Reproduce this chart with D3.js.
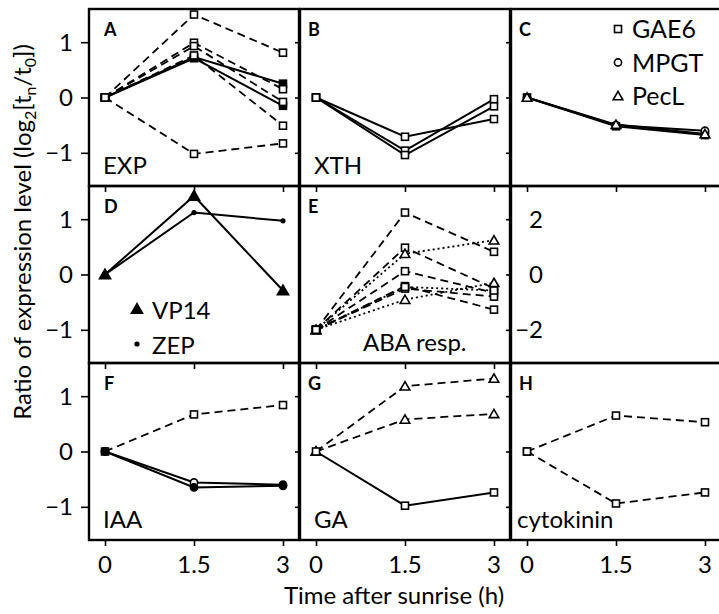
<!DOCTYPE html>
<html>
<head>
<meta charset="utf-8">
<script src="https://cdn.jsdelivr.net/npm/d3@7"></script>
<style>
  body { margin: 0; background: #fff; }
  text { font-family: Lato, "Open Sans", sans-serif; fill: #000; }
</style>
</head>
<body>
<svg id="chart" width="719" height="614"></svg>
<script>
// Sampling times (h after sunrise) and axis ticks
const hours = [0, 1.5, 3];
const hourLabels = ["0", "1.5", "3"];
const ratioTicks = [-1, 0, 1];
const abaTicks = [-2, 0, 2];

// A — EXP
const expValues = [[0, 0.73, 0.25], [0, 0.71, -0.15], [0, 1.50, 0.81], [0, 0.99, 0.15], [0, 0.93, -0.08], [0, 0.76, -0.51], [0, -1.02, -0.83]];
const expGene   = ["GAE6", "GAE6", "GAE6", "GAE6", "GAE6", "GAE6", "GAE6"];
const expFilled = [true, true, false, false, false, false, false];
const expLine   = ["solid", "solid", "dashed", "dashed", "dashed", "dashed", "dashed"];

// B — XTH
const xthValues = [[0, -0.71, -0.39], [0, -0.96, -0.03], [0, -1.04, -0.16]];
const xthGene   = ["GAE6", "GAE6", "GAE6"];
const xthFilled = [false, false, false];
const xthLine   = ["solid", "solid", "solid"];

// C — marker genes
const markerValues = [[0, -0.52, -0.68], [0, -0.50, -0.60], [0, -0.49, -0.66]];
const markerGene   = ["GAE6", "MPGT", "PecL"];
const markerFilled = [false, false, false];
const markerLine   = ["solid", "solid", "solid"];

// D — ABA biosynthesis
const abaBioValues = [[0, 1.42, -0.29], [0, 1.12, 0.97]];
const abaBioGene   = ["VP14", "ZEP"];
const abaBioFilled = [true, true];
const abaBioLine   = ["solid", "solid"];

// E — ABA responsive (right-hand scale)
const abaRespValues = [[-2, 2.24, 0.82], [-2, 0.97, -0.50], [-2, 0.12, -0.66], [-2, -0.42, -1.27], [-2, -0.51, -0.80], [-2, 0.75, 1.24], [-2, -0.91, -0.30], [-2, -0.45, -0.58]];
const abaRespGene   = ["GAE6", "GAE6", "GAE6", "GAE6", "GAE6", "PecL", "PecL", "GAE6"];
const abaRespFilled = [false, false, false, false, false, false, false, false];
const abaRespLine   = ["dashed", "dashed", "dashed", "dashed", "dashed", "dotted", "dotted", "dotted"];

// F — IAA
const iaaValues = [[0, 0.67, 0.84], [0, -0.56, -0.60], [0, -0.65, -0.62]];
const iaaGene   = ["GAE6", "MPGT", "MPGT"];
const iaaFilled = [false, false, true];
const iaaLine   = ["dashed", "solid", "solid"];

// G — GA
const gaValues = [[0, 1.18, 1.32], [0, 0.58, 0.68], [0, -0.98, -0.74]];
const gaGene   = ["PecL", "PecL", "GAE6"];
const gaFilled = [false, false, false];
const gaLine   = ["dashed", "dashed", "solid"];

// H — cytokinin
const ckValues = [[0, 0.65, 0.53], [0, -0.94, -0.74]];
const ckGene   = ["GAE6", "GAE6"];
const ckFilled = [false, false];
const ckLine   = ["dashed", "dashed"];

const panels = [
  { letter: "A", name: "EXP",       col: 0, row: 0, values: expValues,     gene: expGene,     filled: expFilled,     line: expLine },
  { letter: "B", name: "XTH",       col: 1, row: 0, values: xthValues,     gene: xthGene,     filled: xthFilled,     line: xthLine },
  { letter: "C", name: "",          col: 2, row: 0, values: markerValues,  gene: markerGene,  filled: markerFilled,  line: markerLine },
  { letter: "D", name: "",          col: 0, row: 1, values: abaBioValues,  gene: abaBioGene,  filled: abaBioFilled,  line: abaBioLine },
  { letter: "E", name: "ABA resp.", col: 1, row: 1, values: abaRespValues, gene: abaRespGene, filled: abaRespFilled, line: abaRespLine, aba: true },
  { letter: "F", name: "IAA",       col: 0, row: 2, values: iaaValues,     gene: iaaGene,     filled: iaaFilled,     line: iaaLine },
  { letter: "G", name: "GA",        col: 1, row: 2, values: gaValues,      gene: gaGene,      filled: gaFilled,      line: gaLine },
  { letter: "H", name: "cytokinin", col: 2, row: 2, values: ckValues,      gene: ckGene,      filled: ckFilled,      line: ckLine }
];

// Grid geometry
const colX = [89, 300, 511], colW = 210;
const rowY = [9, 186, 363], rowH = 177;
const dashes = { solid: null, dashed: "8,5", dotted: "2,3" };
const FS = 24;

const svg = d3.select("#chart");

function drawMarker(g, gene, filled, cx, cy) {
  const fill = filled ? "#000" : "#fff";
  if (gene === "GAE6") {
    g.append("rect").attr("x", cx - 3.5).attr("y", cy - 3.5).attr("width", 7).attr("height", 7)
      .attr("fill", fill).attr("stroke", "#000").attr("stroke-width", 1.6);
  } else if (gene === "MPGT") {
    g.append("circle").attr("cx", cx).attr("cy", cy).attr("r", 3.6)
      .attr("fill", fill).attr("stroke", "#000").attr("stroke-width", 1.6);
  } else if (gene === "PecL") {
    g.append("path").attr("d", d3.symbol(d3.symbolTriangle, 40)()).attr("transform", `translate(${cx},${cy + 1})`)
      .attr("fill", fill).attr("stroke", "#000").attr("stroke-width", 1.6);
  } else if (gene === "VP14") {
    g.append("path").attr("d", d3.symbol(d3.symbolTriangle, 60)()).attr("transform", `translate(${cx},${cy + 1})`)
      .attr("fill", "#000").attr("stroke", "#000").attr("stroke-width", 1.2);
  } else if (gene === "ZEP") {
    g.append("circle").attr("cx", cx).attr("cy", cy).attr("r", 2.6).attr("fill", "#000");
  }
}

panels.forEach(p => {
  const x0 = colX[p.col], y0 = rowY[p.row];
  const x = d3.scaleLinear().domain([-0.27, 3.27]).range([x0, x0 + colW]);
  const yDomain = p.aba ? [-3.2, 3.2] : [-1.6, 1.6];
  const y = d3.scaleLinear().domain(yDomain).range([y0 + rowH, y0]);
  const g = svg.append("g");

  const line = d3.line().x((d, i) => x(hours[i])).y(d => y(d));
  p.values.forEach((vals, k) => {
    g.append("path").datum(vals).attr("d", line)
      .attr("fill", "none").attr("stroke", "#000")
      .attr("stroke-width", p.line[k] === "solid" ? 2 : 1.8)
      .attr("stroke-dasharray", dashes[p.line[k]]);
  });
  p.values.forEach((vals, k) => {
    vals.forEach((v, i) => drawMarker(g, p.gene[k], p.filled[k], x(hours[i]), y(v)));
  });

  // panel letter and group name
  g.append("text").attr("x", x0 + (p.col === 0 ? 15 : 8)).attr("y", y0 + 27)
    .attr("font-size", 18).attr("font-weight", "bold").text(p.letter);
  if (p.name) {
    const nx = p.aba ? x0 + 63 : (p.col === 2 ? x0 + 6 : x0 + 14);
    g.append("text").attr("x", nx).attr("y", y0 + rowH - 12).attr("font-size", FS).text(p.name);
  }

  // bottom ticks
  const bottom = d3.axisBottom(x).tickValues(hours).tickSize(6).tickFormat("");
  const ax = g.append("g").attr("transform", `translate(0,${y0 + rowH})`).call(bottom);
  ax.select(".domain").remove();
  ax.selectAll(".tick line").attr("stroke", "#000").attr("stroke-width", 1.6);
  if (p.row === 2) {
    hours.forEach((h, i) => {
      g.append("text").attr("x", x(h)).attr("y", 573).attr("text-anchor", "middle")
        .attr("font-size", FS).text(hourLabels[i]);
    });
  }

  // left ticks (labels only on the first column)
  if (!p.aba) {
    const left = d3.axisLeft(y).tickValues(ratioTicks).tickSize(p.col === 0 ? 8 : 5).tickFormat("");
    const ay = g.append("g").attr("transform", `translate(${x0},0)`).call(left);
    ay.select(".domain").remove();
    ay.selectAll(".tick line").attr("stroke", "#000").attr("stroke-width", 1.6);
    if (p.col === 0) {
      ratioTicks.forEach(t => {
        g.append("text").attr("x", 73).attr("y", y(t)).attr("dy", "0.36em")
          .attr("text-anchor", "end").attr("font-size", FS).text(d3.format("d")(t));
      });
    }
  } else {
    // right-hand scale for ABA responsive genes
    const right = d3.axisLeft(y).tickValues(abaTicks).tickSize(5).tickFormat("");
    const ar = g.append("g").attr("transform", `translate(${x0 + colW + 1},0)`).call(right);
    ar.select(".domain").remove();
    ar.selectAll(".tick line").attr("stroke", "#000").attr("stroke-width", 1.6);
    abaTicks.forEach(t => {
      g.append("text").attr("x", x0 + colW + 33).attr("y", y(t)).attr("dy", "0.36em")
        .attr("text-anchor", "end").attr("font-size", FS).text(d3.format("d")(t));
    });
  }
});

// panel frames
const frames = svg.append("g");
[0, 1, 2].forEach(r => [0, 1, 2].forEach(c => {
  frames.append("rect").attr("x", colX[c]).attr("y", rowY[r]).attr("width", colW).attr("height", rowH)
    .attr("fill", "none").attr("stroke", "#000").attr("stroke-width", 2.4);
}));

// legend in C
const legC = svg.append("g");
const legGenes = ["GAE6", "MPGT", "PecL"];
legGenes.forEach((gname, i) => {
  drawMarker(legC, gname, false, 618, 29 + i * 33.5);
  legC.append("text").attr("x", 632).attr("y", 29 + i * 33.5).attr("dy", "0.36em").attr("font-size", 25).text(gname);
});
// legend in D
const legD = svg.append("g");
["VP14", "ZEP"].forEach((gname, i) => {
  drawMarker(legD, gname, true, 137, 309 + i * 35);
  legD.append("text").attr("x", 152).attr("y", 310 + i * 35).attr("dy", "0.36em").attr("font-size", FS).text(gname);
});

// axis titles
svg.append("text").attr("x", 394).attr("y", 604).attr("text-anchor", "middle").attr("font-size", FS)
  .text("Time after sunrise (h)");
const yt = svg.append("text").attr("transform", "translate(31,232) rotate(-90)").attr("text-anchor", "middle").attr("font-size", FS);
yt.append("tspan").text("Ratio of expression level (log");
yt.append("tspan").attr("font-size", 16).attr("dy", 5).text("2");
yt.append("tspan").attr("dy", -5).text("[t");
yt.append("tspan").attr("font-size", 16).attr("dy", 5).text("n");
yt.append("tspan").attr("dy", -5).text("/t");
yt.append("tspan").attr("font-size", 16).attr("dy", 5).text("0");
yt.append("tspan").attr("dy", -5).text("])");
</script>
</body>
</html>
